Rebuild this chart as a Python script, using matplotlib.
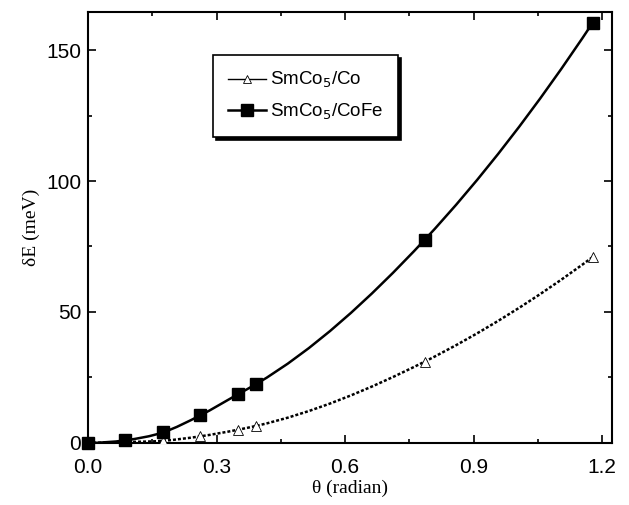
import numpy as np
import matplotlib
matplotlib.use("Agg")
import matplotlib.pyplot as plt
from matplotlib.path import Path
from matplotlib.patches import PathPatch

# data
theta_fe = [0.0, 0.0873, 0.1745, 0.2618, 0.3491, 0.3927, 0.7854, 1.1781]
dE_fe = [0.0, 1.0, 4.0, 10.5, 18.5, 22.5, 77.5, 160.5]
theta_co = [0.0, 0.0873, 0.1745, 0.2618, 0.3491, 0.3927, 0.7854, 1.1781]
dE_co = [0.0, 0.3, 0.8, 2.5, 5.0, 6.5, 31.0, 71.0]

label_co = "SmCo$_5$/Co"
label_fe = "SmCo$_5$/CoFe"


def smooth_path(x, y):
    # cubic Hermite bezier through the points, the curve is drawn by matplotlib
    x = np.asarray(x, float)
    y = np.asarray(y, float)
    n = len(x)
    h = np.diff(x)
    d = np.diff(y) / h
    m = np.empty(n)
    for i in range(1, n - 1):
        m[i] = (d[i - 1] * h[i] + d[i] * h[i - 1]) / (h[i - 1] + h[i])
    m[0] = max(2 * d[0] - m[1], 0)
    m[-1] = 2 * d[-1] - m[-2]
    verts = [(x[0], y[0])]
    codes = [Path.MOVETO]
    for i in range(n - 1):
        dx = h[i] / 3
        verts += [(x[i] + dx, y[i] + dx * m[i]),
                  (x[i + 1] - dx, y[i + 1] - dx * m[i + 1]),
                  (x[i + 1], y[i + 1])]
        codes += [Path.CURVE4] * 3
    return Path(verts, codes)


fig = plt.figure(figsize=(6.29, 5.05), dpi=100)
ax = fig.add_axes([0.14, 0.123, 0.833, 0.853])

ax.add_patch(PathPatch(smooth_path(theta_fe, dE_fe), fill=False, lw=1.8,
                       color="black", zorder=2))
ax.add_patch(PathPatch(smooth_path(theta_co, dE_co), fill=False, lw=1.8,
                       color="black", linestyle=(0, (1.2, 0.8)), zorder=2))

ax.plot(theta_co, dE_co, linestyle="none", marker="^", markersize=7,
        markerfacecolor="white", markeredgecolor="black", markeredgewidth=0.6,
        zorder=3)
ax.plot(theta_fe, dE_fe, linestyle="none", marker="s", markersize=8.5,
        color="black", zorder=4, clip_on=False)

# legend handles
h1, = ax.plot([], [], color="black", lw=1.0, marker="^", markersize=6,
              markerfacecolor="white", markeredgewidth=0.6, label=label_co)
h2, = ax.plot([], [], color="black", lw=1.8, marker="s", markersize=8,
              label=label_fe)
leg = ax.legend(handles=[h1, h2], loc="upper left",
                bbox_to_anchor=(0.239, 0.90), borderaxespad=0,
                fancybox=False, edgecolor="black", framealpha=1,
                fontsize=13.5, handlelength=2.0, handletextpad=0.2,
                labelspacing=0.6, borderpad=0.8,
                shadow={"color": "black", "alpha": 1})
leg.get_frame().set_linewidth(1.2)

ax.set_xlim(0, 1.223)
ax.set_ylim(0, 164.5)
ax.set_xticks([0.0, 0.3, 0.6, 0.9, 1.2])
ax.set_xticklabels(["0.0", "0.3", "0.6", "0.9", "1.2"])
ax.set_yticks([0, 50, 100, 150])
ax.set_xticks([0.15, 0.45, 0.75, 1.05], minor=True)
ax.set_yticks([25, 75, 125], minor=True)
ax.tick_params(which="both", direction="in", top=True, right=True,
               labelsize=15, width=1.2)
ax.tick_params(which="major", length=6)
ax.tick_params(which="minor", length=3)
ax.tick_params(axis="x", which="major", pad=11)
ax.tick_params(axis="y", which="major", pad=5)
for s in ax.spines.values():
    s.set_linewidth(1.5)

ax.set_xlabel("θ (radian)", family="Liberation Serif", fontsize=14, labelpad=2)
ax.set_ylabel("δE (meV)", family="Liberation Serif", fontsize=14, labelpad=4)
for lab in ax.get_xticklabels() + ax.get_yticklabels():
    lab.set_family("Liberation Sans")
for t in leg.get_texts():
    t.set_family("Liberation Sans")

fig.savefig("out.png", dpi=100)
